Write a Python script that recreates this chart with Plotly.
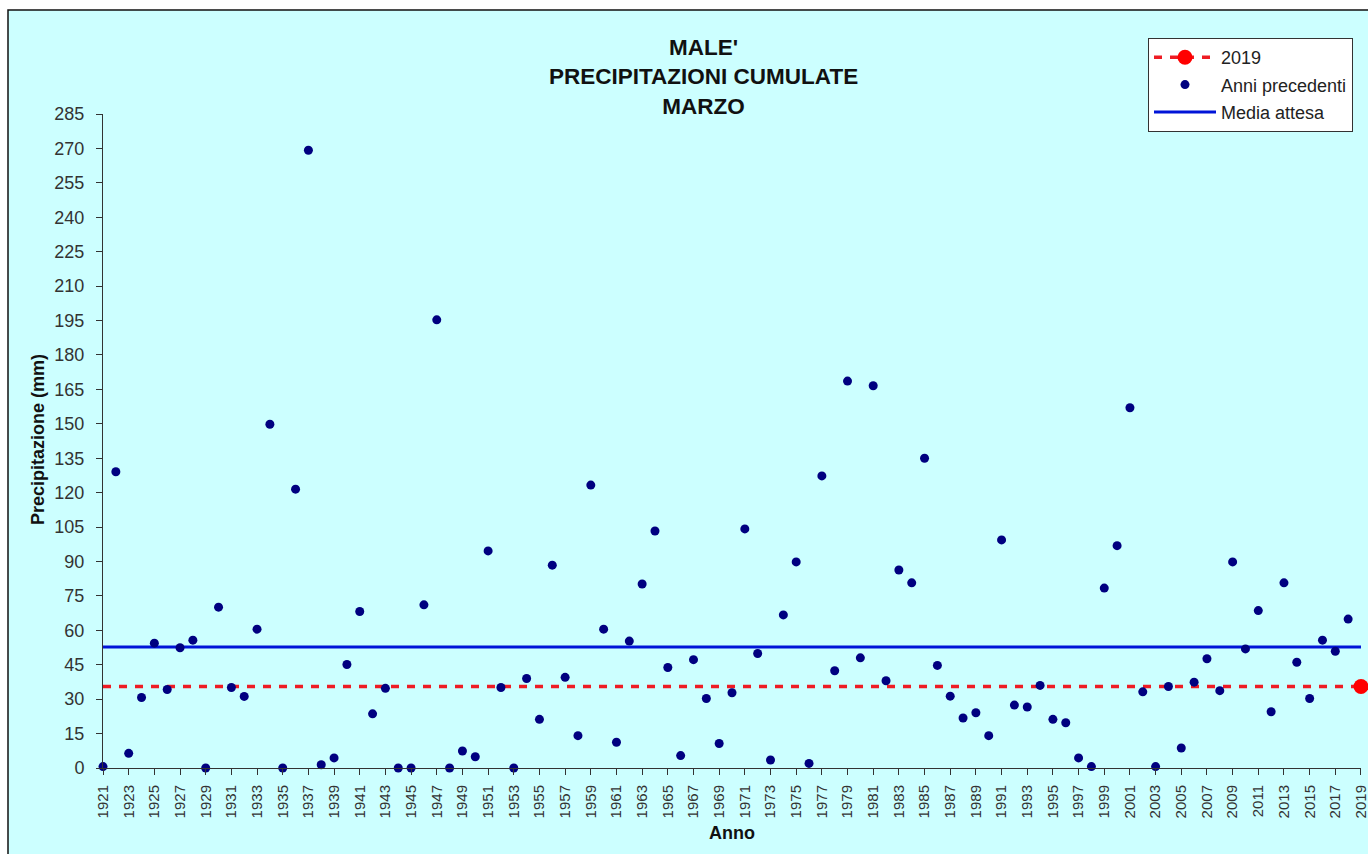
import plotly.graph_objects as go

# ---- data ----
years_prev = list(range(1921, 2019))
precip_prev = [
    0.6, 129.1, 6.4, 30.7, 54.4, 34.2, 52.4, 55.7, 0.0, 70.1,      # 1921-1930
    35.1, 31.2, 60.5, 149.8, 0.0, 121.5, 269.2, 1.4, 4.4, 45.1,    # 1931-1940
    68.2, 23.6, 34.7, 0.0, 0.0, 71.1, 195.3, 0.0, 7.4, 4.9,        # 1941-1950
    94.6, 35.1, 0.0, 39.0, 21.2, 88.4, 39.5, 14.1, 123.3, 60.5,    # 1951-1960
    11.2, 55.3, 80.2, 103.3, 43.8, 5.4, 47.2, 30.3, 10.7, 32.8,    # 1961-1970
    104.2, 49.9, 3.5, 66.7, 89.8, 2.0, 127.3, 42.4, 168.6, 48.0,   # 1971-1980
    166.6, 38.0, 86.3, 80.7, 135.0, 44.7, 31.3, 21.8, 24.1, 14.1,  # 1981-1990
    99.4, 27.4, 26.6, 36.0, 21.2, 19.7, 4.4, 0.6, 78.4, 96.9,      # 1991-2000
    157.0, 33.2, 0.6, 35.5, 8.7, 37.4, 47.6, 33.7, 89.8, 51.9,     # 2001-2010
    68.6, 24.5, 80.7, 46.1, 30.3, 55.7, 50.9, 64.9,                # 2011-2018
]
year_current = 2019
precip_current = 35.5
media_attesa = 52.7

all_years = years_prev + [year_current]
x_ticks = list(range(1921, 2020, 2))
y_ticks = list(range(0, 286, 15))

FONT = "Liberation Sans, Arial, sans-serif"
CYAN = "#CCFFFF"

fig = go.Figure()

# Media attesa (blue line)
fig.add_trace(go.Scatter(
    x=all_years, y=[media_attesa] * len(all_years), mode="lines",
    line=dict(color="#0014D8", width=3), name="Media attesa",
    legendgroup="c", legendrank=3, cliponaxis=False, hoverinfo="skip"))

# 2019 reference dashed line across all years
fig.add_trace(go.Scatter(
    x=all_years, y=[precip_current] * len(all_years), mode="lines",
    line=dict(color="#EE1C24", width=3.5, dash="8px,8px"),
    showlegend=False, cliponaxis=False, hoverinfo="skip"))

# Previous years
fig.add_trace(go.Scatter(
    x=years_prev, y=precip_prev, mode="markers",
    marker=dict(color="#000080", size=9), name="Anni precedenti",
    legendgroup="b", legendrank=2, cliponaxis=False))

# 2019 point
fig.add_trace(go.Scatter(
    x=[year_current], y=[precip_current], mode="lines+markers",
    line=dict(color="#EE1C24", width=3.5, dash="8px,8px"),
    marker=dict(color="#FF0000", size=15), name="2019",
    legendgroup="a", legendrank=1, cliponaxis=False))

# plot area geometry (px)
L, R, T, B = 103, 7, 114, 86
W, H = 1368, 854
pw = W - L - R
ph = H - T - B

def px_x(p):
    return (p - L) / pw

def px_y(p):
    return (H - B - p) / ph

fig.update_layout(
    width=W, height=H,
    margin=dict(l=L, r=R, t=T, b=B, pad=0, autoexpand=False),
    paper_bgcolor="white",
    plot_bgcolor=CYAN,
    font=dict(family=FONT, color="#222222"),
    showlegend=True,
    legend=dict(
        x=px_x(1353), y=px_y(38), xanchor="right", yanchor="top",
        bgcolor="white", bordercolor="#333333", borderwidth=1,
        font=dict(family=FONT, size=18, color="#222222"),
        traceorder="grouped", tracegroupgap=1, itemwidth=62,
    ),
    xaxis=dict(
        range=[1920.999, 2019.001], tickmode="array", tickvals=x_ticks,
        ticktext=[str(v) for v in x_ticks], tickangle=-90,
        showgrid=False, zeroline=False, showline=True, automargin=False,
        linecolor="#333333", linewidth=1, ticks="outside", ticklen=6,
        tickcolor="#333333", tickfont=dict(family=FONT, size=15, color="#333333"),
        ticklabelstandoff=4, ticklabeloverflow="allow",
    ),
    yaxis=dict(
        range=[0, 285], tickmode="array", tickvals=y_ticks,
        showgrid=False, zeroline=False, showline=True, automargin=False,
        linecolor="#333333", linewidth=1, ticks="outside", ticklen=6,
        tickcolor="#333333", tickfont=dict(family=FONT, size=18, color="#333333"),
        ticklabelstandoff=8, ticklabeloverflow="allow",
    ),
    shapes=[dict(
        type="rect", xref="paper", yref="paper", layer="below",
        x0=px_x(8), x1=px_x(1400), y0=px_y(880), y1=px_y(10),
        fillcolor=CYAN, line=dict(color="#111111", width=1.5),
    )],
    annotations=[
        dict(text="<b>MALE'<br>PRECIPITAZIONI CUMULATE<br>MARZO</b>",
             xref="paper", yref="paper", x=px_x(703), y=px_y(77),
             xanchor="center", yanchor="middle", align="center",
             showarrow=False, font=dict(family=FONT, size=22.5, color="#111111")),
        dict(text="<b>Precipitazione (mm)</b>", textangle=-90,
             xref="paper", yref="paper", x=px_x(38), y=px_y(440),
             xanchor="center", yanchor="middle", showarrow=False,
             font=dict(family=FONT, size=18, color="#111111")),
        dict(text="<b>Anno</b>",
             xref="paper", yref="paper", x=px_x(732), y=px_y(833),
             xanchor="center", yanchor="middle", showarrow=False,
             font=dict(family=FONT, size=18, color="#111111")),
    ],
)

fig.write_html(
    "out.html",
    config={"displayModeBar": False},
    post_script="document.body.style.margin='0';document.body.style.overflow='hidden';",
)
